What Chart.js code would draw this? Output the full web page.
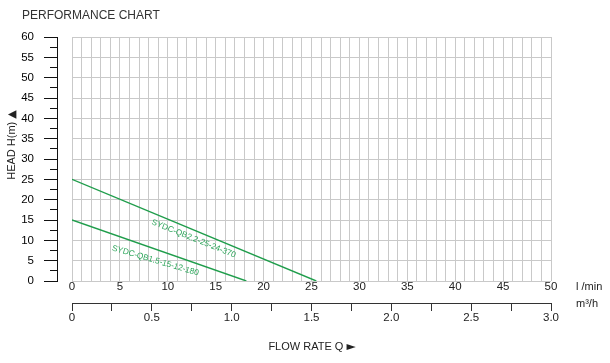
<!DOCTYPE html>
<html>
<head>
<meta charset="utf-8">
<script src="https://cdn.jsdelivr.net/npm/chart.js@4/dist/chart.umd.min.js"></script>
<style>
  html, body { margin: 0; padding: 0; background: #ffffff; }
  #c { display: block; }
</style>
</head>
<body>
<canvas id="c" width="610" height="363"></canvas>
<script>
// ---- data ----
const seriesNames = ['SYDC-QB2.2-25-24-370', 'SYDC-QB1.5-15-12-180'];
const flowQB22 = [0, 25.5];   // l/min
const headQB22 = [25, 0];     // m
const flowQB15 = [0, 18.2];   // l/min
const headQB15 = [15, 0];     // m
const labelFlow = [12.7, 8.7];  // where each curve name sits (l/min)
const labelHead = [10.4, 5.0];  // where each curve name sits (m)

const flowTickLabels = ['0','5','10','15','20','25','30','35','40','45','50'];
const m3hTickLabels = ['0','0.5','1.0','1.5','2.0','2.5','3.0'];
const headTickLabels = ['0','5','10','15','20','25','30','35','40','45','50','55','60'];

// ---- styles ----
const FONT = '"Liberation Sans", Arial, sans-serif';
const SYM_FONT = '"DejaVu Sans", sans-serif';
const LINE_GREEN = '#1f9d4b';
const TEXT_GREEN = '#2fa65c';
const GRID = '#c9c9c9';

const toPoints = (xs, ys) => xs.map((x, i) => ({ x: x, y: ys[i] }));

// text + symbol written as two runs, centred together on (0,0)
function drawWithSymbol(ctx, text, sym, textFont, symFont) {
  ctx.font = textFont;
  const w1 = ctx.measureText(text).width;
  ctx.font = symFont;
  const w2 = ctx.measureText(sym).width;
  const start = -(w1 + w2) / 2;
  ctx.textAlign = 'left';
  ctx.font = textFont;
  ctx.fillText(text, start, 0);
  ctx.font = symFont;
  ctx.fillText(sym, start + w1, 0);
}

const textPlugin = {
  id: 'texts',
  afterDraw(chart) {
    const ctx = chart.ctx;
    const xs = chart.scales.x, ys = chart.scales.y;
    ctx.save();
    ctx.fillStyle = '#333';
    ctx.textBaseline = 'middle';
    ctx.textAlign = 'left';
    ctx.font = '12px ' + FONT;
    ctx.fillText('PERFORMANCE CHART', 22, 16);

    ctx.fillStyle = '#222';
    ctx.font = '11px ' + FONT;
    ctx.fillText('l /min', 576, 287);
    ctx.fillText('m\u00b3/h', 576, 304);

    ctx.save();
    ctx.translate(312, 347);
    drawWithSymbol(ctx, 'FLOW RATE Q ', '\u25BA', '11px ' + FONT, '12px ' + SYM_FONT);
    ctx.restore();

    ctx.save();
    ctx.translate(12, 145);
    ctx.rotate(-Math.PI / 2);
    drawWithSymbol(ctx, 'HEAD H(m) ', '\u25B2', '11px ' + FONT, '11px ' + SYM_FONT);
    ctx.restore();

    // curve names along the curves
    ctx.fillStyle = TEXT_GREEN;
    ctx.font = '8.3px ' + FONT;
    chart.data.datasets.forEach((ds, i) => {
      const d = ds.data;
      const p0x = xs.getPixelForValue(d[0].x), p0y = ys.getPixelForValue(d[0].y);
      const p1x = xs.getPixelForValue(d[d.length - 1].x), p1y = ys.getPixelForValue(d[d.length - 1].y);
      const ang = Math.atan2(p1y - p0y, p1x - p0x) * (i === 0 ? 0.97 : 0.85);
      ctx.save();
      ctx.translate(xs.getPixelForValue(labelFlow[i]), ys.getPixelForValue(labelHead[i]));
      ctx.rotate(ang);
      ctx.textAlign = 'center';
      ctx.fillText(seriesNames[i], 0, 0);
      ctx.restore();
    });
    ctx.restore();
  }
};

new Chart(document.getElementById('c'), {
  type: 'scatter',
  data: {
    datasets: [
      { label: seriesNames[0], data: toPoints(flowQB22, headQB22), showLine: true,
        borderColor: LINE_GREEN, borderWidth: 1.4, pointRadius: 0, tension: 0,
        xAxisID: 'x', yAxisID: 'y' },
      { label: seriesNames[1], data: toPoints(flowQB15, headQB15), showLine: true,
        borderColor: LINE_GREEN, borderWidth: 1.4, pointRadius: 0, tension: 0,
        xAxisID: 'x', yAxisID: 'y' }
    ]
  },
  options: {
    responsive: false,
    animation: false,
    devicePixelRatio: 1,
    layout: { padding: { left: 0, right: 59, top: 37, bottom: 0 } },
    plugins: { legend: { display: false }, tooltip: { enabled: false }, title: { display: false } },
    scales: {
      x: {
        type: 'linear', position: 'bottom', weight: 0,
        min: 0, max: 50,
        grid: { color: GRID, lineWidth: 1, drawTicks: false },
        border: { display: false },
        ticks: {
          stepSize: 1, autoSkip: false, maxRotation: 0, minRotation: 0, padding: 0,
          color: '#222', font: { family: FONT, size: 11.5, lineHeight: 1 },
          callback: (v) => (v % 5 === 0 ? flowTickLabels[v / 5] : '')
        },
        afterFit: (s) => { s.height = 22; }
      },
      x2: {
        type: 'linear', position: 'bottom', weight: 1,
        min: 0, max: 3,
        grid: { drawOnChartArea: false, drawTicks: true, tickLength: 8, tickColor: '#333', tickWidth: 1 },
        border: { display: true, color: '#333', width: 1 },
        ticks: {
          stepSize: 0.25, autoSkip: false, maxRotation: 0, minRotation: 0, padding: 1,
          color: '#222', font: { family: FONT, size: 11.5, lineHeight: 1 },
          callback: (v) => (Math.abs(v * 2 - Math.round(v * 2)) < 1e-9 ? m3hTickLabels[Math.round(v * 2)] : '')
        },
        afterFit: (s) => { s.height = 60; }
      },
      y: {
        type: 'linear', position: 'left', weight: 0,
        min: 0, max: 60,
        grid: { color: GRID, lineWidth: 1, drawTicks: false },
        border: { display: false },
        ticks: { display: false, stepSize: 5 },
        afterFit: (s) => { s.width = 15; }
      },
      yHead: {
        type: 'linear', position: 'left', weight: 1,
        min: 0, max: 60,
        grid: {
          drawOnChartArea: false, drawTicks: true, tickLength: 13, tickColor: '#111', tickWidth: 1,
          tickBorderDash: (c) => (c.tick && c.tick.value % 5 === 0 ? [] : [0, 6, 7, 50])
        },
        border: { display: true, color: '#111', width: 1 },
        ticks: {
          stepSize: 2.5, autoSkip: false, padding: 10,
          color: '#000', font: { family: FONT, size: 11.5, lineHeight: 1 },
          callback: (v) => (v % 5 === 0 ? headTickLabels[v / 5] : '')
        },
        afterFit: (s) => { s.width = 57; }
      }
    }
  },
  plugins: [textPlugin]
});
</script>
</body>
</html>
